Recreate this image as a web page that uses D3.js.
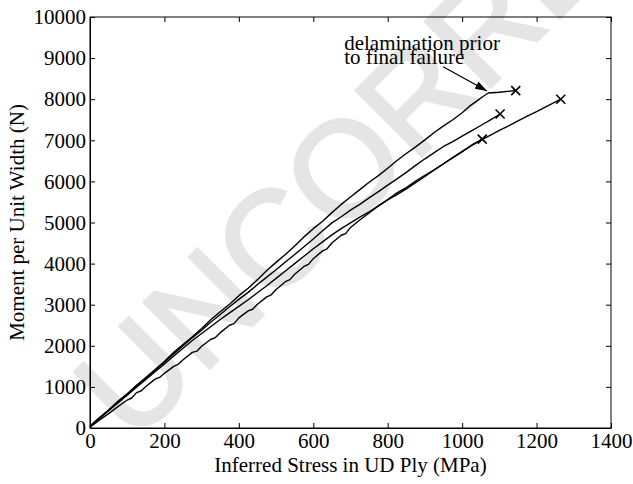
<!DOCTYPE html>
<html>
<head>
<title>Moment vs inferred stress</title>
<script src="https://d3js.org/d3.v7.min.js"></script>
<style>
    body { margin: 0; background: #fff; }
    text { font-family: "Liberation Serif", "Times New Roman", serif; fill: #000; }
</style>
</head>
<body>
<script>
// each specimen: [inferred stress in UD ply (MPa), moment per unit width (N)]
const specimenA = [[0,50],[25,250],[50,440],[75,650],[100,830],[125,1040],[150,1230],[175,1420],[200,1620],[225,1840],
    [250,2030],[275,2220],[300,2420],[325,2640],[350,2830],[375,3010],[400,3220],[425,3400],[450,3610],[475,3830],
    [500,4030],[525,4220],[550,4430],[575,4650],[600,4850],[625,5030],[650,5240],[675,5440],[700,5620],[725,5800],
    [750,5980],[775,6140],[800,6320],[825,6510],[850,6680],[875,6840],[900,7010],[925,7190],[950,7350],[975,7500],
    [1000,7670],[1020,7830],[1040,7960],[1055,8060],[1070,8150],[1100,8170],[1144,8210]];
const specimenB = [[0,40],[25,240],[50,430],[75,630],[100,820],[125,1020],[150,1210],[175,1400],[200,1610],[225,1800],
    [250,2000],[275,2200],[300,2380],[325,2580],[350,2760],[375,2950],[400,3130],[425,3300],[450,3490],[475,3670],
    [500,3850],[525,4040],[550,4220],[575,4410],[600,4600],[625,4800],[650,4990],[675,5140],[700,5300],[725,5440],
    [750,5600],[775,5750],[800,5910],[825,6060],[850,6220],[875,6390],[900,6550],[925,6700],[950,6850],[975,6970],
    [1000,7100],[1025,7230],[1050,7360],[1075,7490],[1102,7640]];
const specimenC = [[0,30],[25,230],[50,420],[75,610],[100,800],[125,990],[150,1180],[175,1370],[200,1560],[225,1750],
    [250,1940],[275,2130],[300,2300],[325,2470],[350,2640],[375,2800],[400,2960],[425,3120],[450,3290],[475,3460],
    [500,3640],[525,3820],[550,4000],[575,4180],[600,4360],[625,4530],[650,4700],[675,4850],[700,4990],[725,5130],
    [750,5260],[775,5400],[800,5550],[825,5680],[850,5820],[875,5970],[900,6120],[925,6280],[950,6430],[975,6580],
    [1000,6730],[1025,6870],[1050,7000],[1075,7120],[1100,7240],[1125,7350],[1150,7470],[1175,7590],[1200,7700],
    [1230,7840],[1265,8000]];
const specimenD = [[0,20],[25,190],[50,350],[75,520],[100,680],[112,730],[125,860],[137,900],[150,1010],[175,1190],
    [187,1230],[200,1330],[225,1500],[237,1550],[250,1660],[275,1840],[287,1870],[300,1990],[325,2160],[337,2200],
    [350,2320],[375,2500],[387,2540],[400,2680],[425,2850],[437,2890],[450,3010],[475,3190],[487,3240],[500,3370],
    [525,3560],[537,3610],[550,3740],[575,3930],[587,3980],[600,4120],[625,4310],[637,4360],[650,4500],[675,4690],
    [687,4730],[700,4880],[725,5060],[750,5230],[775,5410],[800,5560],[825,5720],[850,5850],[875,6010],[900,6150],
    [925,6280],[950,6430],[975,6580],[1000,6720],[1025,6880],[1054,7030]];
const specimens = [specimenA, specimenB, specimenC, specimenD];

const xTicks = [0, 200, 400, 600, 800, 1000, 1200, 1400];
const yTicks = [0, 1000, 2000, 3000, 4000, 5000, 6000, 7000, 8000, 9000, 10000];
const noteLines = ['delamination prior', 'to final failure'];
const noteAt = [683, 9200];               // where the note text starts (data units)
const arrowFrom = [949, 8790], arrowTo = [1067, 8200];
const xTitle = 'Inferred Stress in UD Ply (MPa)';
const yTitle = 'Moment per Unit Width (N)';
const watermark = 'UNCORRECTED PROOF';

const width = 633, height = 484;
const fs = 21;

const svg = d3.select('body').append('svg').attr('width', width).attr('height', height);

const x = d3.scaleLinear().domain([0, 1400]).range([90, 611]);
const y = d3.scaleLinear().domain([0, 10000]).range([428, 17]);

// watermark sits behind everything
svg.append('text')
    .attr('transform', 'translate(133,445) rotate(-45)')
    .style('font-family', '"Liberation Sans", Arial, sans-serif')
    .style('font-size', '135px')
    .style('fill', '#e5e5e5')
    .attr('stroke', '#e5e5e5').attr('stroke-width', 3)
    .text(watermark);

// axes, ticks pointing inward on all four sides
const labels = g => g.selectAll('text').attr('font-size', fs);
const plain = g => { g.selectAll('text').remove(); g.select('.domain').remove(); };

svg.append('g').attr('transform', `translate(0,${y(0)})`)
    .call(d3.axisBottom(x).tickValues(xTicks).tickFormat(d3.format('d'))
        .tickSizeInner(-5).tickSizeOuter(0).tickPadding(5))
    .call(labels);
svg.append('g').attr('transform', `translate(${x(0)},0)`)
    .call(d3.axisLeft(y).tickValues(yTicks).tickFormat(d3.format('d'))
        .tickSizeInner(-5).tickSizeOuter(0).tickPadding(4))
    .call(labels);
svg.append('g').attr('transform', `translate(0,${y(10000)})`)
    .call(d3.axisTop(x).tickValues(xTicks).tickSizeInner(-5).tickSizeOuter(0)).call(plain);
svg.append('g').attr('transform', `translate(${x(1400)},0)`)
    .call(d3.axisRight(y).tickValues(yTicks).tickSizeInner(-5).tickSizeOuter(0)).call(plain);

svg.append('rect')
    .attr('x', x(0)).attr('y', y(10000))
    .attr('width', x(1400) - x(0)).attr('height', y(0) - y(10000))
    .attr('fill', 'none').attr('stroke', '#000').attr('stroke-width', 1);

// curves
const line = d3.line().x(d => x(d[0])).y(d => y(d[1]));
svg.append('g').selectAll('path').data(specimens).join('path')
    .attr('d', line)
    .attr('fill', 'none').attr('stroke', '#000').attr('stroke-width', 1.4)
    .attr('stroke-linejoin', 'round');

// failure crosses at the end of each curve
svg.append('g').selectAll('path').data(specimens.map(s => s[s.length - 1])).join('path')
    .attr('transform', d => `translate(${x(d[0])},${y(d[1])})`)
    .attr('d', 'M-4.5,-4.5L4.5,4.5M-4.5,4.5L4.5,-4.5')
    .attr('stroke', '#000').attr('stroke-width', 1.6);

// annotation
const note = svg.append('g').attr('transform', `translate(${x(noteAt[0])},${y(noteAt[1])})`);
note.selectAll('text').data(noteLines).join('text')
    .attr('y', (d, i) => i * 14.5)
    .attr('font-size', fs)
    .text(d => d);

svg.append('defs').append('marker')
    .attr('id', 'head').attr('markerUnits', 'userSpaceOnUse')
    .attr('markerWidth', 13).attr('markerHeight', 10)
    .attr('refX', 12).attr('refY', 4).attr('orient', 'auto')
    .append('path').attr('d', 'M0,0L12,4L0,8Z').attr('fill', '#000');

svg.append('line')
    .attr('x1', x(arrowFrom[0])).attr('y1', y(arrowFrom[1]))
    .attr('x2', x(arrowTo[0])).attr('y2', y(arrowTo[1]))
    .attr('stroke', '#000').attr('stroke-width', 1.3)
    .attr('marker-end', 'url(#head)');

// axis titles
svg.append('text')
    .attr('transform', `translate(${(x(0) + x(1400)) / 2},472)`)
    .attr('text-anchor', 'middle').attr('font-size', fs)
    .text(xTitle);
svg.append('text')
    .attr('transform', `translate(24,${(y(0) + y(10000)) / 2}) rotate(-90)`)
    .attr('text-anchor', 'middle').attr('font-size', fs)
    .text(yTitle);
</script>
</body>
</html>
